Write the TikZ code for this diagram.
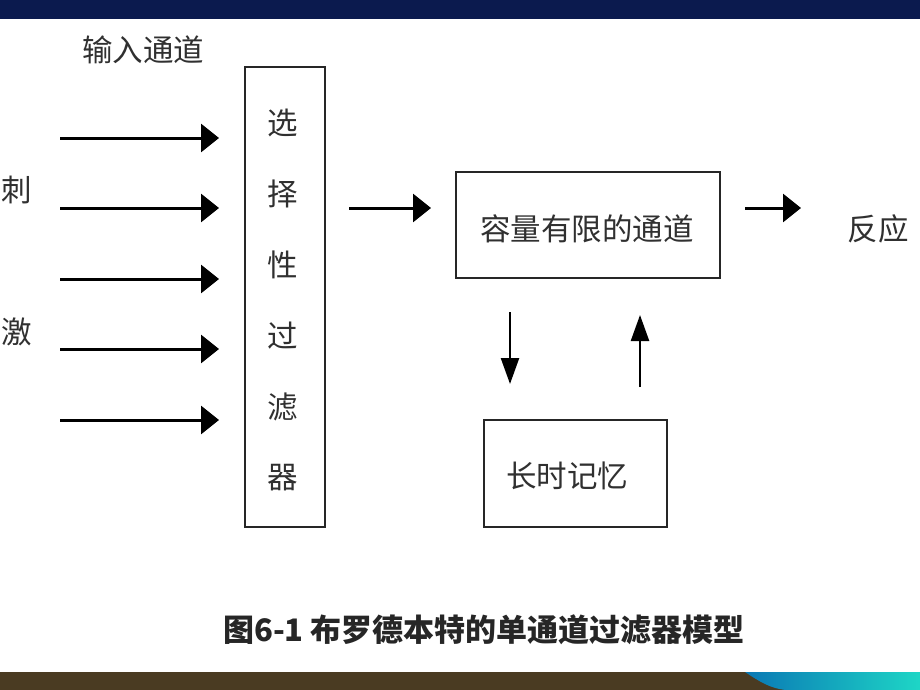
\documentclass[tikz,border=0pt]{standalone}
\usepackage{fontspec}
\newfontfamily\cjk{Noto Sans CJK SC}
\usetikzlibrary{arrows.meta}
\definecolor{topbar}{HTML}{0B1A4E}
\definecolor{botbar}{HTML}{4A3B22}
\definecolor{tealA}{HTML}{0A78B4}
\definecolor{tealB}{HTML}{1ED6C6}
\definecolor{txt}{HTML}{303030}
\tikzset{
  lbl/.style={font=\cjk\fontsize{30.5}{30}\selectfont, text=txt, inner sep=0pt},
  boxed/.style={draw=black!85, line width=1.6pt},
  arr/.style={line width=3pt, -{Triangle[length=18pt,width=28pt]}},
  varr/.style={line width=2.4pt, -{Triangle[length=26pt,width=18pt]}}
}
\begin{document}
\begin{tikzpicture}[x=1pt,y=-1pt]
\useasboundingbox (0,0) rectangle (920,690);
\fill[white] (0,0) rectangle (920,690);
% bars
\fill[topbar] (0,0) rectangle (920,19);
\fill[botbar] (0,672) rectangle (920,690);
\shade[left color=tealA, right color=tealB] (745,672) .. controls (760,682) and (770,688) .. (785,690) -- (920,690) -- (920,672) -- cycle;
% labels
\node[lbl] (inch) at (143,50) {输入通道};
\node[lbl] (ci) at (17,190) {刺};
\node[lbl] (ji) at (17,332) {激};
% filter box
\node[boxed, minimum width=80pt, minimum height=460pt, inner sep=0pt] (filter) at (285,297) {};
\foreach \c [count=\i] in {选,择,性,过,滤,器}
  \node[lbl] (f\i) at (283,{52+71*\i}) {\c};
% input arrows
\foreach \y [count=\i] in {138,208,279,349,420} {
  \coordinate (s\i) at (60,\y);
  \coordinate (e\i) at (219,\y);
  \draw[arr] (s\i) -- (e\i);
}
% capacity box
\node[boxed, minimum width=264pt, minimum height=106pt, inner sep=0pt] (cap) at (588,225) {};
\node[lbl] (captxt) at (587,229) {容量有限的通道};
\coordinate (m1) at (349,208);
\coordinate (m2) at (431,208);
\draw[arr] (m1) -- (m2);
\coordinate (r1) at (745,208);
\coordinate (r2) at (801,208);
\draw[arr] (r1) -- (r2);
\node[lbl] (resp) at (878,229) {反应};
% memory box
\node[boxed, minimum width=183pt, minimum height=107pt, inner sep=0pt] (mem) at (575.5,473.5) {};
\node[lbl] (memtxt) at (567,476) {长时记忆};
\coordinate (d1) at (510,312);
\coordinate (d2) at (510,384);
\draw[varr] (d1) -- (d2);
\coordinate (u1) at (640,387);
\coordinate (u2) at (640,315);
\draw[varr] (u1) -- (u2);
% caption
\node[font=\cjk\bfseries\fontsize{31}{31}\selectfont, text=black!85, inner sep=0pt] (caption) at (484,630) {图6-1\ 布罗德本特的单通道过滤器模型};
\end{tikzpicture}
\end{document}
